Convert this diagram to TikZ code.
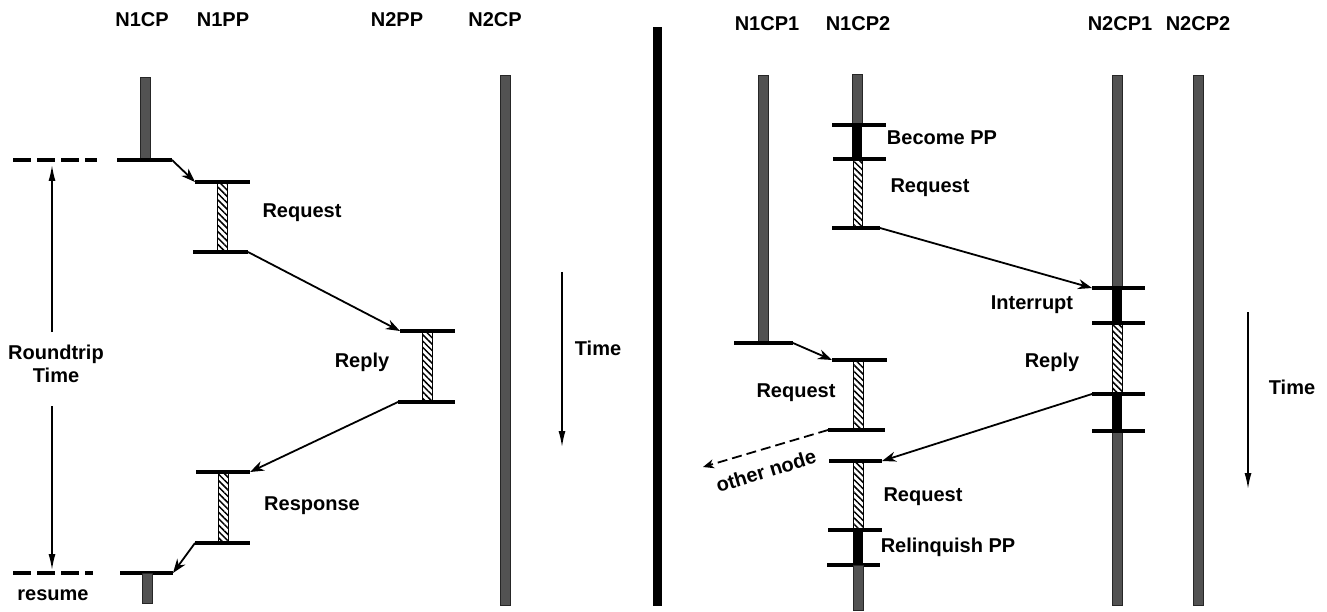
\documentclass[tikz,border=0pt]{standalone}
\usepackage{fontspec}
\setmainfont{Liberation Sans}
\usetikzlibrary{arrows.meta,patterns.meta}
\begin{document}
\begin{tikzpicture}[x=1pt,y=-1pt,
  lbl/.style={font=\bfseries\fontsize{20}{23}\selectfont, inner sep=0pt, align=center},
  tickline/.style={line width=3.4pt},
  graybar/.style={fill=black!68, draw=black!85, line width=0.6pt},
  hatchbar/.style={pattern={Lines[angle=-45,distance=4.5pt,line width=1.5pt]}, draw=black, line width=0.8pt},
  blackbar/.style={fill=black},
  msg/.style={line width=1.8pt, -{Stealth[length=14pt,width=10pt,inset=4.5pt]}},
  dmsg/.style={line width=1.8pt, dash pattern=on 10pt off 5pt, -{Stealth[length=11pt,width=9pt,inset=3.5pt]}},
  timearrow/.style={line width=1.5pt, -{Latex[length=16pt,width=7pt]}},
  dashline/.style={line width=3.2pt, dash pattern=on 18pt off 6pt},
]
\useasboundingbox (0,0) rectangle (1327,612);

% ================= LEFT PANEL =================
\node[lbl] (lN1CP) at (142,20) {N1CP};
\node[lbl] (lN1PP) at (223,20) {N1PP};
\node[lbl] (lN2PP) at (397,20) {N2PP};
\node[lbl] (lN2CP) at (495,20) {N2CP};

% N1CP
\path[graybar] (140,77) rectangle (150,160);
\draw[tickline] (117,160) -- (172,160);
\coordinate (a1s) at (172,160);
% N1PP request
\draw[tickline] (195,182) -- (250,182);
\coordinate (a1e) at (195,182);
\path[hatchbar] (217,182) rectangle (227,252);
\draw[tickline] (193,252) -- (248,252);
\coordinate (a2s) at (248,252);
\node[lbl] (lreq1) at (302,213) {Request};
% N2PP reply
\draw[tickline] (400,331) -- (455,331);
\coordinate (a2e) at (400,331);
\path[hatchbar] (422,331) rectangle (432,402);
\draw[tickline] (398,402) -- (455,402);
\coordinate (a3s) at (398,402);
\node[lbl] (lrep1) at (362,362) {Reply};
% N1PP response
\draw[tickline] (196,472) -- (250,472);
\coordinate (a3e) at (250,472);
\path[hatchbar] (218,472) rectangle (228,543);
\draw[tickline] (195,543) -- (250,543);
\coordinate (a4s) at (195,543);
\node[lbl] (lresp) at (312,506) {Response};
% N1CP resume
\draw[tickline] (120,573) -- (173,573);
\coordinate (a4e) at (173,573);
\path[graybar] (142,573) rectangle (152,603);

\draw[msg] (a1s) -- (a1e);
\draw[msg] (a2s) -- (a2e);
\draw[msg] (a3s) -- (a3e);
\draw[msg] (a4s) -- (a4e);

% N2CP
\path[graybar] (500,75) rectangle (510,605);

% roundtrip
\draw[dashline] (13,160) -- (97,160);
\draw[dashline] (13,573) -- (93,573);
\node[lbl] (rt) at (56,364) {Roundtrip\\Time};
\coordinate (rtA) at (52,332);
\coordinate (rtB) at (52,406);
\coordinate (rtTop) at (52,165);
\coordinate (rtBot) at (52,570);
\draw[timearrow] (rtA) -- (rtTop);
\draw[timearrow] (rtB) -- (rtBot);
\node[lbl] (resume) at (53,595) {resume};

% time arrow left
\coordinate (tl1) at (562,272);
\coordinate (tl2) at (562,447);
\draw[timearrow] (tl1) -- (tl2);
\node[lbl] (ltime) at (598,348) {Time};

% divider
\fill[black] (653,27) rectangle (662,606);

% ================= RIGHT PANEL =================
\node[lbl] (lN1CP1) at (767,24) {N1CP1};
\node[lbl] (lN1CP2) at (858,24) {N1CP2};
\node[lbl] (lN2CP1) at (1120,24) {N2CP1};
\node[lbl] (lN2CP2) at (1198,24) {N2CP2};

% N1CP1
\path[graybar] (758,75) rectangle (768,343);
\draw[tickline] (734,343) -- (793,343);
\coordinate (b1s) at (793,343);

% N1CP2
\path[graybar] (852,74) rectangle (862,125);
\path[blackbar] (852,125) rectangle (862,159);
\draw[tickline] (832,125) -- (886,125);
\draw[tickline] (833,159) -- (886,159);
\node[lbl] (lbec) at (942,138) {Become PP};
\path[hatchbar] (853,159) rectangle (862,228);
\node[lbl] (lreq2) at (930,188) {Request};
\draw[tickline] (832,228) -- (880,228);
\coordinate (b2s) at (880,228);

\draw[tickline] (832,360) -- (887,360);
\coordinate (b1e) at (832,360);
\path[hatchbar] (853,360) rectangle (863,430);
\draw[tickline] (828,430) -- (885,430);
\coordinate (b4s) at (828,430);
\node[lbl] (lreq3) at (796,393) {Request};
\coordinate (other) at (703,467);
\node[lbl, rotate=17] (lother) at (766,471) {other node};

\draw[tickline] (829,461) -- (882,461);
\coordinate (b3e) at (882,461);
\path[hatchbar] (853,461) rectangle (863,530);
\node[lbl] (lreq4) at (923,497) {Request};
\path[blackbar] (853,530) rectangle (863,565);
\draw[tickline] (828,530) -- (882,530);
\draw[tickline] (827,565) -- (880,565);
\node[lbl] (lrel) at (948,547) {Relinquish PP};
\path[graybar] (853,565) rectangle (863,610);

% N2CP1
\path[graybar] (1112,75) rectangle (1122,288);
\path[blackbar] (1112,288) rectangle (1122,323);
\path[hatchbar] (1112,323) rectangle (1122,394);
\path[blackbar] (1112,394) rectangle (1122,431);
\path[graybar] (1112,431) rectangle (1122,605);
\draw[tickline] (1092,288) -- (1145,288);
\draw[tickline] (1092,323) -- (1145,323);
\draw[tickline] (1092,394) -- (1145,394);
\draw[tickline] (1092,431) -- (1145,431);
\coordinate (b2e) at (1092,288);
\coordinate (b3s) at (1092,394);
\node[lbl] (lint) at (1032,305) {Interrupt};
\node[lbl] (lrep2) at (1052,362) {Reply};

% N2CP2
\path[graybar] (1193,75) rectangle (1203,605);

\draw[msg] (b1s) -- (b1e);
\draw[msg] (b2s) -- (b2e);
\draw[msg] (b3s) -- (b3e);
\draw[dmsg] (b4s) -- (other);

% time arrow right
\coordinate (tr1) at (1248,312);
\coordinate (tr2) at (1248,489);
\draw[timearrow] (tr1) -- (tr2);
\node[lbl] (rtime) at (1292,387) {Time};
\end{tikzpicture}
\end{document}
